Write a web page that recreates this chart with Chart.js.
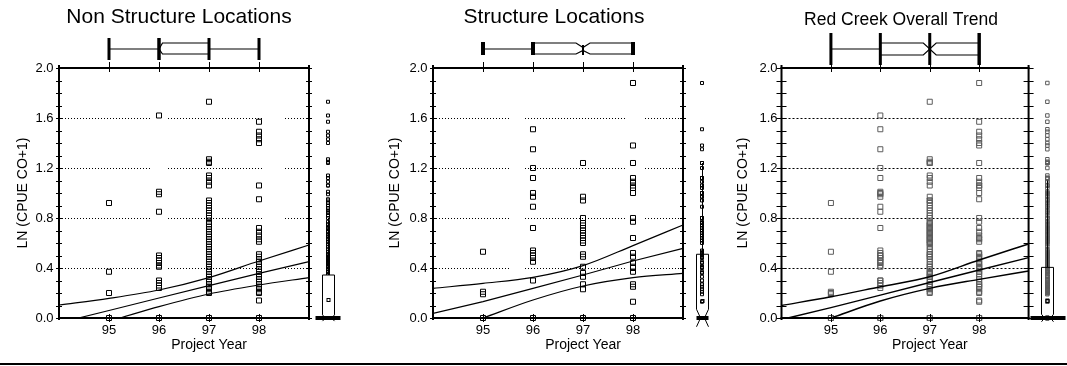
<!DOCTYPE html>
<html>
<head>
<meta charset="utf-8">
<script src="https://cdn.jsdelivr.net/npm/chart.js@4.4.0/dist/chart.umd.min.js"></script>
<style>
  html, body { margin: 0; padding: 0; background: #fff; }
  #wrap { position: relative; width: 1067px; height: 366px; overflow: hidden; background: #fff; }
  #wrap canvas { position: absolute; top: 0; }
  #rule { position: absolute; left: 0; top: 363px; width: 1067px; height: 2px; background: #000; }
</style>
</head>
<body>
<div id="wrap">
  <canvas id="nonStruct" width="360" height="366" style="left:-1px"></canvas>
  <canvas id="struct" width="358" height="366" style="left:375px"></canvas>
  <canvas id="overall" width="354" height="366" style="left:724px"></canvas>
  <div id="rule"></div>
</div>
<script>
// Project years on the x axis and the y tick labels
const years = [95, 96, 97, 98];
const xTickLabels = ['95', '96', '97', '98'];
const yTicks = [0, 0.4, 0.8, 1.2, 1.6, 2.0];

// LN(CPUE CO+1) per sample, non structure locations
const nonStruct95 = [0.92, 0.37, 0.20, 0];
const nonStruct96 = [1.62, 1.01, 0.99, 0.85, 0.50, 0.48, 0.46, 0.44, 0.42, 0.41, 0.30, 0.28, 0.26, 0.24, 0];
const nonStruct97 = [1.73, 1.27, 1.25, 1.24, 1.14, 1.12, 1.09, 1.06, 0.94, 0.92, 0.90, 0.88, 0.86, 0.84, 0.82,
  0.80, 0.77, 0.75, 0.73, 0.71, 0.69, 0.67, 0.65, 0.63, 0.61, 0.59, 0.57, 0.55, 0.53, 0.51, 0.49, 0.47, 0.45,
  0.43, 0.41, 0.39, 0.37, 0.35, 0.33, 0.31, 0.29, 0.27, 0.25, 0.23, 0.21, 0.20, 0];
const nonStruct98 = [1.57, 1.49, 1.46, 1.43, 1.40, 1.06, 0.95, 0.72, 0.69, 0.66, 0.63, 0.61, 0.51, 0.49, 0.47,
  0.45, 0.43, 0.41, 0.39, 0.37, 0.35, 0.33, 0.31, 0.29, 0.27, 0.25, 0.23, 0.21, 0.20, 0.14, 0];

// LN(CPUE CO+1) per sample, structure locations
const struct95 = [0.53, 0.21, 0.19, 0];
const struct96 = [1.51, 1.35, 1.20, 1.12, 1.00, 0.97, 0.89, 0.72, 0.54, 0.52, 0.50, 0.48, 0.45, 0.30, 0];
const struct97 = [1.24, 0.97, 0.94, 0.80, 0.76, 0.74, 0.72, 0.70, 0.68, 0.66, 0.64, 0.62, 0.60, 0.51, 0.49,
  0.41, 0.36, 0.33, 0.27, 0.23, 0];
const struct98 = [1.88, 1.38, 1.24, 1.12, 1.09, 1.06, 1.04, 1.00, 0.80, 0.77, 0.64, 0.52, 0.49, 0.44, 0.41,
  0.40, 0.37, 0.27, 0.25, 0.13, 0];

// Red Creek overall: both location types together
const overall95 = [...nonStruct95, ...struct95];
const overall96 = [...nonStruct96, ...struct96];
const overall97 = [...nonStruct97, ...struct97];
const overall98 = [...nonStruct98, ...struct98];

// Regression fit and confidence bands, [year, value]
const nonStructUpper = [[94, 0.104], [95, 0.157], [96, 0.224], [97, 0.323], [98, 0.456], [99, 0.584]];
const nonStructFit = [[94.39, 0], [95, 0.06], [96, 0.16], [97, 0.259], [98, 0.357], [99, 0.451]];
const nonStructLower = [[95.22, 0], [96, 0.091], [97, 0.192], [98, 0.264], [99, 0.323]];

const structUpper = [[94, 0.237], [95, 0.277], [96, 0.325], [97, 0.419], [98, 0.579], [99, 0.744]];
const structFit = [[94, 0.037], [95, 0.131], [96, 0.237], [97, 0.344], [98, 0.456], [99, 0.557]];
const structLower = [[95, 0], [96, 0.144], [97, 0.256], [98, 0.323], [99, 0.357]];

const overallUpper = [[94, 0.10], [95, 0.17], [96, 0.25], [97, 0.33], [98, 0.464], [99, 0.592]];
const overallFit = [[94.13, 0], [95, 0.083], [96, 0.183], [97, 0.284], [98, 0.384], [99, 0.483]];
const overallLower = [[95, 0], [96, 0.136], [97, 0.237], [98, 0.309], [99, 0.376]];

// Box plot summaries: sampling year (top) and CPUE (right margin)
const nonStructYearBox = { lo: 95, q1: 96, med: 96, q3: 97, hi: 98 };
const structYearBox = { lo: 95, q1: 96, med: 97, q3: 98, hi: 98 };
const overallYearBox = { lo: 95, q1: 96, med: 97, q3: 98, hi: 98 };

const nonStructCpueBox = { med: 0, q3: 0.344, whiskerHi: 0.80, mean: 0.144 };
const structCpueBox = { med: 0, q3: 0.51, whiskerHi: 1.24, mean: 0.136 };
const overallCpueBox = { med: 0, q3: 0.405, whiskerHi: 1.10, mean: 0.136 };

// x range of the plot frame; the scale runs a year further to hold the margin box plot
const frameStart = 94;
const frameEnd = 99;
const scaleEnd = 100;
const marginYear = 99.38;

Chart.defaults.font.family = "'Liberation Sans', Arial, Helvetica, sans-serif";
Chart.defaults.color = '#000';

// Axes frame, minor ticks, dotted reference lines and the two marginal box plots
const panelDecor = {
  id: 'panelDecor',
  beforeDatasetsDraw(chart, _args, o) {
    const { ctx, scales: { x, y } } = chart;
    ctx.save();
    ctx.strokeStyle = '#000';
    ctx.lineWidth = 1;
    ctx.setLineDash(o.gridDash);
    const spans = [];
    let from = frameStart;
    for (const [g0, g1] of o.gridGaps) { spans.push([from, g0]); from = g1; }
    spans.push([from, frameEnd]);
    for (const v of yTicks.slice(1, -1)) {
      const yy = Math.round(y.getPixelForValue(v)) + 0.5;
      for (const [s0, s1] of spans) {
        ctx.beginPath();
        ctx.moveTo(x.getPixelForValue(s0) + 3, yy);
        ctx.lineTo(x.getPixelForValue(s1), yy);
        ctx.stroke();
      }
    }
    ctx.restore();
  },
  afterDatasetsDraw(chart, _args, o) {
    const { ctx, scales: { x, y } } = chart;
    const X = v => x.getPixelForValue(v);
    const Y = v => y.getPixelForValue(v);
    const seg = (x0, y0, x1, y1) => { ctx.beginPath(); ctx.moveTo(x0, y0); ctx.lineTo(x1, y1); ctx.stroke(); };
    const L = X(frameStart), R = X(frameEnd), T = Y(y.max), B = Y(y.min);
    ctx.save();
    ctx.strokeStyle = '#000';
    ctx.fillStyle = '#000';

    // frame
    ctx.lineWidth = 2;
    seg(L, T - 3, L, B + 2);
    seg(R, T - 3, R, B + 2);
    seg(L - 1, T, R + 1, T);
    seg(L - 1, B, R + 1, B);

    // minor ticks every 0.1 on both vertical axes
    ctx.lineWidth = 1;
    for (let i = 0; i <= 20; i++) {
      const yy = Math.round(Y(i / 10)) + 0.5;
      seg(L - o.tickOut, yy, L + o.tickIn, yy);
      seg(R - o.tickIn, yy, R + o.tickOut, yy);
    }
    // year ticks on top and bottom axes
    for (const yr of years) {
      const xx = Math.round(X(yr)) + 0.5;
      seg(xx, T - 6, xx, T + 4);
      seg(xx, B - 4, xx, B + 4);
    }

    // notched box plot of sampling years above the plot
    const b = o.yearBox, s = o.yearStyle;
    const xq1 = X(b.q1), xq3 = X(b.q3), xm = X(b.med), nw = X(b.med + s.notch) - xm;
    ctx.lineWidth = 1.2;
    seg(X(b.lo), s.mid, xq1, s.mid);
    if (b.hi > b.q3) seg(xq3, s.mid, X(b.hi), s.mid);
    for (const [edge, inner] of [[s.boxTop, s.mid - s.notchGap], [s.boxBot, s.mid + s.notchGap]]) {
      ctx.beginPath();
      ctx.moveTo(xq1, edge);
      ctx.lineTo(Math.max(xq1, xm - nw), edge);
      ctx.lineTo(xm, inner);
      ctx.lineTo(Math.min(xq3, xm + nw), edge);
      ctx.lineTo(xq3, edge);
      ctx.stroke();
    }
    ctx.lineWidth = s.capW;
    for (const v of [b.lo, b.q1, b.q3, b.hi]) seg(X(v), s.capTop, X(v), s.capBot);
    ctx.lineWidth = s.medW;
    seg(xm, s.medTop, xm, s.medBot);

    // notched box plot of CPUE in the right margin
    const c = o.cpueBox, k = o.cpueStyle;
    const cx = Math.round(X(marginYear)) + 0.5;
    const xl = cx - k.halfW, xr = cx + k.halfW;
    ctx.lineWidth = 1;
    if (k.fill) {
      ctx.fillStyle = '#fff';
      ctx.fillRect(xl, Y(c.q3), xr - xl, Y(c.med) - Y(c.q3));
      ctx.fillStyle = '#000';
    }
    seg(cx, Y(c.q3), cx, Y(c.whiskerHi));
    ctx.beginPath();
    ctx.moveTo(xl, Y(c.med + k.notch));
    ctx.lineTo(xl, Y(c.q3));
    ctx.lineTo(xr, Y(c.q3));
    ctx.lineTo(xr, Y(c.med + k.notch));
    ctx.stroke();
    for (const [edge, dir] of [[xl, 1], [xr, -1]]) {
      ctx.beginPath();
      ctx.moveTo(edge, Y(c.med + k.notch));
      ctx.lineTo(edge + dir * k.inset, Y(c.med));
      ctx.lineTo(edge, Y(c.med - k.notch));
      ctx.stroke();
    }
    ctx.strokeRect(cx - 1.5, Y(c.mean) - 1.5, 3, 3);
    ctx.lineWidth = k.barW;
    seg(cx - k.barL, Y(c.med), cx + k.barR, Y(c.med));
    ctx.restore();
  }
};
Chart.register(panelDecor);

const pairs = list => list.map(([x, y]) => ({ x, y }));
const columnPoints = cols => cols.flatMap((vals, i) => vals.map(v => ({ x: years[i], y: v })));

function makePanel(id, p) {
  const allValues = p.cols.flat();
  const band = (data) => ({
    data: pairs(data), showLine: true, cubicInterpolationMode: 'monotone',
    borderColor: '#000', borderWidth: p.lineW, pointRadius: 0, clip: 0
  });
  return new Chart(document.getElementById(id), {
    type: 'scatter',
    data: {
      datasets: [
        band(p.upper),
        { data: pairs(p.fit), showLine: true, tension: 0, borderColor: '#000', borderWidth: p.lineW, pointRadius: 0, clip: 0 },
        band(p.lower),
        {
          data: columnPoints(p.cols), pointStyle: 'rect', pointRadius: 3.54, borderWidth: 1,
          borderColor: p.pointColor, backgroundColor: 'rgba(0,0,0,0)', clip: false
        },
        {
          data: allValues.map(v => ({ x: marginYear, y: v })), pointStyle: 'rect', pointRadius: p.marginRadius,
          borderWidth: 1, borderColor: p.pointColor, backgroundColor: 'rgba(0,0,0,0)', clip: false
        }
      ]
    },
    options: {
      responsive: false,
      devicePixelRatio: 1,
      animation: false,
      events: [],
      layout: { padding: { left: 0, right: 0, top: 0, bottom: 0 }, autoPadding: false },
      plugins: {
        legend: { display: false },
        tooltip: { enabled: false },
        title: {
          display: true, text: p.title, color: '#000',
          font: { size: p.titleSize, weight: 'normal' }, padding: p.titlePad
        },
        panelDecor: {
          gridDash: p.gridDash, gridGaps: p.gridGaps, tickIn: p.tickIn, tickOut: p.tickOut,
          yearBox: p.yearBox, yearStyle: p.yearStyle, cpueBox: p.cpueBox, cpueStyle: p.cpueStyle
        }
      },
      scales: {
        x: {
          type: 'linear', min: frameStart, max: scaleEnd,
          grid: { display: false, drawTicks: false }, border: { display: false },
          afterBuildTicks: s => { s.ticks = years.map(v => ({ value: v })); },
          ticks: { font: { size: 13 }, padding: 5, maxRotation: 0, autoSkip: false,
            callback: v => xTickLabels[years.indexOf(v)] },
          title: { display: true, text: 'Project Year', font: { size: 14 }, padding: { top: 0, bottom: 12.5 } },
          afterFit: s => { s.height = 48; }
        },
        y: {
          type: 'linear', min: 0, max: 2,
          grid: { display: false, drawTicks: false }, border: { display: false },
          afterBuildTicks: s => { s.ticks = yTicks.map(v => ({ value: v })); },
          ticks: { font: { size: 13 }, padding: p.yTickPad, callback: v => v.toFixed(1) },
          title: { display: true, text: 'LN (CPUE CO+1)', font: { size: 14 }, padding: { top: p.yTitlePad, bottom: 0 } },
          afterFit: s => { s.width = p.yWidth; }
        }
      }
    }
  });
}

makePanel('nonStruct', {
  title: 'Non Structure Locations', titleSize: 21, titlePad: { top: 5, bottom: 37.8 },
  yWidth: 60, yTitlePad: 15.6, yTickPad: 5.5,
  cols: [nonStruct95, nonStruct96, nonStruct97, nonStruct98],
  upper: nonStructUpper, fit: nonStructFit, lower: nonStructLower,
  pointColor: '#000', marginRadius: 2.12, lineW: 1.2,
  gridDash: [1, 2], gridGaps: [[95.82, 96.12], [98.08, 98.46]], tickIn: 3, tickOut: 3,
  yearBox: nonStructYearBox,
  yearStyle: { boxTop: 43, boxBot: 54, mid: 49, notch: 0.07, notchGap: 0,
    capTop: 38, capBot: 60, capW: 3, medTop: 38, medBot: 60, medW: 3 },
  cpueBox: nonStructCpueBox,
  cpueStyle: { halfW: 6, inset: 3, notch: 0.025, barL: 13, barR: 12, barW: 4, fill: true }
});

makePanel('struct', {
  title: 'Structure Locations', titleSize: 21, titlePad: { top: 5, bottom: 37.8 },
  yWidth: 58, yTitlePad: 11.6, yTickPad: 5.5,
  cols: [struct95, struct96, struct97, struct98],
  upper: structUpper, fit: structFit, lower: structLower,
  pointColor: '#000', marginRadius: 2.12, lineW: 1.2,
  gridDash: [1, 2], gridGaps: [[95.54, 95.78], [97.84, 98.18]], tickIn: 3, tickOut: 3,
  yearBox: structYearBox,
  yearStyle: { boxTop: 43, boxBot: 54, mid: 49, notch: 0.14, notchGap: 1.5,
    capTop: 42, capBot: 55, capW: 4, medTop: 45, medBot: 55, medW: 2 },
  cpueBox: structCpueBox,
  cpueStyle: { halfW: 6, inset: 4, notch: 0.07, barL: 6, barR: 6, barW: 4, fill: false }
});

makePanel('overall', {
  title: 'Red Creek Overall Trend', titleSize: 17.5, titlePad: { top: 10.1, bottom: 36.9 },
  yWidth: 57.5, yTitlePad: 10.5, yTickPad: 4,
  cols: [overall95, overall96, overall97, overall98],
  upper: overallUpper, fit: overallFit, lower: overallLower,
  pointColor: '#5c5c5c', marginRadius: 2.47, lineW: 1.5,
  gridDash: [2, 2], gridGaps: [], tickIn: 5, tickOut: 5,
  yearBox: overallYearBox,
  yearStyle: { boxTop: 43, boxBot: 55, mid: 49, notch: 0.13, notchGap: 0,
    capTop: 33, capBot: 65, capW: 3, medTop: 33, medBot: 65, medW: 3 },
  cpueBox: overallCpueBox,
  cpueStyle: { halfW: 6, inset: 3, notch: 0.03, barL: 17, barR: 18, barW: 4, fill: false }
});
</script>
</body>
</html>
